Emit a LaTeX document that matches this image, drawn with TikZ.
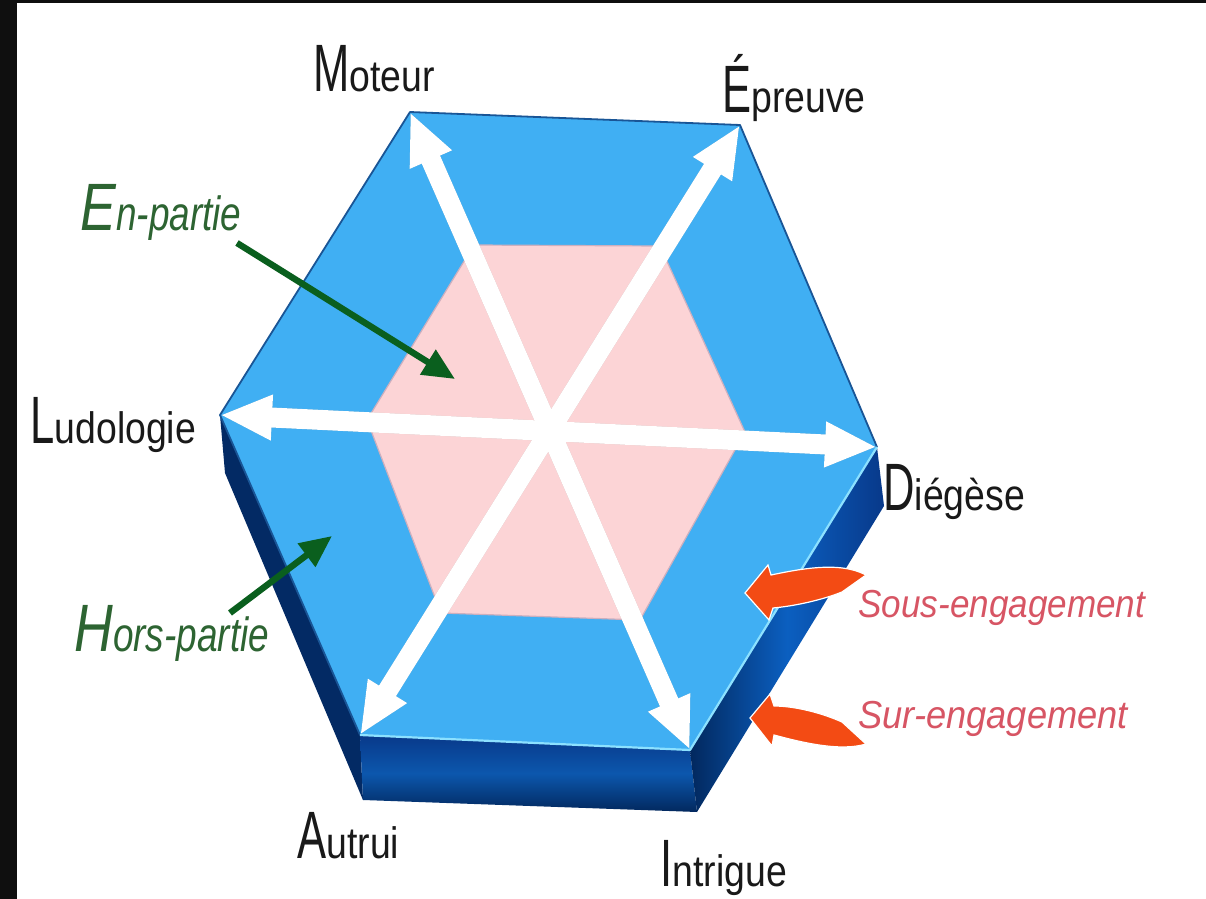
\documentclass[tikz,border=0pt]{standalone}
\usepackage{fontspec}
\setmainfont{Liberation Sans}
\usetikzlibrary{arrows.meta}
\definecolor{topblue}{RGB}{64,175,243}
\definecolor{edgedark}{RGB}{25,85,150}
\definecolor{edgelight}{RGB}{140,225,255}
\definecolor{navyleft}{RGB}{3,42,100}
\definecolor{navyA}{RGB}{8,57,138}
\definecolor{navyB}{RGB}{12,87,173}
\definecolor{navyC}{RGB}{2,40,94}
\definecolor{navyD}{RGB}{11,95,192}
\definecolor{pinkfill}{RGB}{252,212,214}
\definecolor{pinkedge}{RGB}{205,175,190}
\definecolor{labelblack}{RGB}{25,25,25}
\definecolor{textgreen}{RGB}{45,100,50}
\definecolor{arrowgreen}{RGB}{10,95,30}
\definecolor{textred}{RGB}{215,85,100}
\definecolor{orangered}{RGB}{243,75,20}
\definecolor{frameblack}{RGB}{15,15,15}
\newcommand\capA[1]{\scalebox{0.65}[1]{\fontsize{33.5}{34}\selectfont #1}}
\newcommand\restA[1]{\scalebox{0.85}[1]{\fontsize{22}{24}\selectfont #1}}
\newcommand\capG[1]{\scalebox{0.8}[1]{\fontsize{33.5}{34}\selectfont\itshape #1}}
\newcommand\restG[1]{\scalebox{0.77}[1]{\fontsize{24}{26}\selectfont\itshape #1}}
\newcommand\redtxt[2]{\scalebox{#2}[1]{\fontsize{19.5}{20}\selectfont\itshape #1}}
\tikzset{
  lbl/.style={anchor=base west, inner sep=0pt, text=labelblack},
  glbl/.style={anchor=base west, inner sep=0pt, text=textgreen},
  rlbl/.style={anchor=base west, inner sep=0pt, text=textred},
  warrow/.style={draw=white, line width=10pt,
    {Triangle[length=26pt,width=21pt]}-{Triangle[length=26pt,width=21pt]}},
  wshadow/.style={draw=black, opacity=0.18, line width=10pt,
    {Triangle[length=26pt,width=21pt]}-{Triangle[length=26pt,width=21pt]}},
  garrow/.style={draw=arrowgreen, line width=3.2pt,
    -{Triangle[length=16pt,width=14pt]}},
  curvearrow/.style={fill=orangered, draw=white, line width=0.6pt},
}
\begin{document}
\begin{tikzpicture}[x=0.5pt,y=-0.5pt]
\useasboundingbox (0,0) rectangle (1206,899);
\fill[white] (0,0) rectangle (1206,899);
\fill[frameblack] (0,0) rectangle (17,899);
\fill[frameblack] (0,0) rectangle (1206,3);

% top face vertices
\coordinate (M) at (410,112);
\coordinate (E) at (740,125);
\coordinate (D) at (877,447);
\coordinate (I) at (690,750);
\coordinate (A) at (360,735);
\coordinate (L) at (220,415);
% bottom (extruded) vertices
\coordinate (Lb) at (225,473);
\coordinate (Ab) at (363,800);
\coordinate (Ib) at (697,812);
\coordinate (Db) at (884,506);
% inner pink hexagon
\coordinate (P1) at (474,245);
\coordinate (P2) at (660,246);
\coordinate (P3) at (745,432);
\coordinate (P4) at (640,620);
\coordinate (P5) at (441,613);
\coordinate (P6) at (367,420);

% side faces
\fill[navyleft] (L) -- (A) -- (Ab) -- (Lb) -- cycle;
\shade[top color=navyA, bottom color=navyC, middle color=navyB] (A) -- (I) -- (Ib) -- (Ab) -- cycle;
\shade[left color=navyC, right color=navyA, middle color=navyD] (I) -- (D) -- (Db) -- (Ib) -- cycle;

% top face
\fill[topblue] (L) -- (M) -- (E) -- (D) -- (I) -- (A) -- cycle;
\draw[edgedark, line width=0.9pt, line join=round] (A) -- (L) -- (M) -- (E) -- (D);
\draw[edgelight, line width=1.1pt, line join=round] (D) -- (I) -- (A);

% pink hexagon
\fill[pinkfill] (P1) -- (P2) -- (P3) -- (P4) -- (P5) -- (P6) -- cycle;
\draw[pinkedge, line width=0.6pt] (P1) -- (P2) -- (P3) -- (P4) -- (P5) -- (P6) -- cycle;

% white double arrows
\begin{scope}[shift={(3,5)}]
\draw[wshadow] (M) -- (I);
\draw[wshadow] (E) -- (A);
\draw[wshadow] (L) -- (D);
\end{scope}
\draw[warrow] (M) -- (I);
\draw[warrow] (E) -- (A);
\draw[warrow] (L) -- (D);

% labels
\node[lbl] (tM) at (313,92) {\capA{M}\restA{oteur}};
\node[lbl] (tE) at (722,113) {\capA{É}\restA{preuve}};
\node[lbl] (tL) at (30,443) {\capA{L}\restA{udologie}};
\node[lbl] (tD) at (883,510) {\capA{D}\restA{iégèse}};
\node[lbl] (tA) at (297,858) {\capA{A}\restA{utrui}};
\node[lbl] (tI) at (660,886) {\capA{I}\restA{ntrigue}};

\node[glbl] (tEn) at (80,230) {\capG{E}\restG{n-partie}};
\node[glbl] (tHors) at (74,651) {\capG{H}\restG{ors-partie}};

\node[rlbl] (tSous) at (858,617) {\redtxt{Sous-engagement}{0.9}};
\node[rlbl] (tSur) at (858,728) {\redtxt{Sur-engagement}{0.93}};

% green arrows
\coordinate (enS) at (237,243);
\coordinate (enT) at (455,379);
\coordinate (hoS) at (230,613);
\coordinate (hoT) at (332,536);
\draw[garrow] (enS) -- (enT);
\draw[garrow] (hoS) -- (hoT);

% orange curved arrows
\fill[curvearrow] (745,593) -- (768,565) -- (771,575)
  .. controls (800,569) and (840,561) .. (866,575)
  -- (842,592)
  .. controls (822,600) and (795,606) .. (773,608)
  -- (769,620) -- cycle;
\fill[curvearrow] (750,718) -- (770,694) -- (774,706)
  .. controls (795,706) and (822,713) .. (842,722)
  -- (866,744)
  .. controls (840,752) and (800,742) .. (774,735)
  -- (772,746) -- cycle;
\end{tikzpicture}
\end{document}
